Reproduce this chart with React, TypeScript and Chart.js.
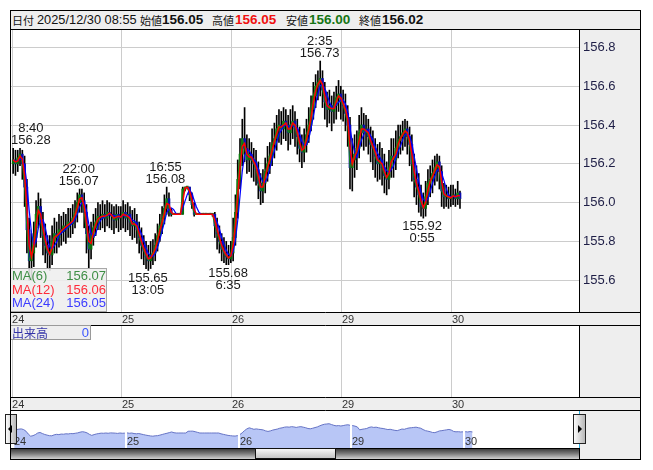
import React, { useEffect, useRef } from "react";
import { Chart, registerables } from "chart.js";

Chart.register(...registerables);

const FONT = '"Liberation Sans", Arial, sans-serif';
const JP = '"Noto Sans CJK JP", "Noto Sans", sans-serif';

// ---- data (30-minute bars, hours counted from Dec 24 07:00, weekend removed) ----
const dayLabels = ["24", "25", "26", "29", "30"];
const dayStartHours = [0, 24, 48, 72, 96];
const BAR_HOURS = 0.5;
const firstOpen = 156.2;

const d24Close = [156.22, 156.2, 156.23, 156.25, 156.2, 156.08, 155.86, 155.7, 155.74, 155.82, 155.94, 155.98, 155.9, 155.83, 155.78, 155.74, 155.73, 155.8, 155.84, 155.82, 155.86, 155.85, 155.88, 155.87, 155.9, 155.89, 155.92, 155.95, 156.0, 156.04, 156.01, 155.95, 155.84, 155.76, 155.82, 155.87, 155.9, 155.93, 155.92, 155.94, 155.92, 155.95, 155.94, 155.93, 155.91, 155.94, 155.92, 155.93];
const d24High = [156.28, 156.27, 156.27, 156.28, 156.27, 156.24, 156.12, 155.92, 155.84, 155.9, 156.01, 156.05, 156.02, 155.95, 155.89, 155.83, 155.83, 155.88, 155.92, 155.9, 155.94, 155.93, 155.95, 155.94, 155.97, 155.97, 155.99, 156.01, 156.05, 156.07, 156.07, 156.05, 155.99, 155.88, 155.9, 155.94, 155.97, 156.0, 155.99, 156.01, 155.99, 156.01, 156.0, 155.99, 155.98, 155.99, 155.98, 155.98];
const d24Low = [156.15, 156.14, 156.16, 156.19, 156.12, 155.98, 155.74, 155.6, 155.6, 155.67, 155.77, 155.87, 155.82, 155.73, 155.69, 155.66, 155.65, 155.68, 155.74, 155.74, 155.77, 155.78, 155.8, 155.79, 155.82, 155.82, 155.84, 155.87, 155.9, 155.95, 155.95, 155.87, 155.74, 155.66, 155.71, 155.78, 155.83, 155.86, 155.86, 155.87, 155.85, 155.88, 155.87, 155.86, 155.84, 155.87, 155.85, 155.86];

const d25Close = [155.95, 155.92, 155.94, 155.9, 155.88, 155.9, 155.86, 155.82, 155.78, 155.75, 155.72, 155.7, 155.73, 155.74, 155.78, 155.83, 155.88, 155.92, 155.97, 156.02, 155.96, 155.94, 155.94, 155.94, 155.94, 155.94, 156.07, 156.08, 156.08, 156.04, 155.99, 155.94, 155.94, 155.94, 155.94, 155.94, 155.94, 155.94, 155.94, 155.94, 155.88, 155.84, 155.8, 155.76, 155.74, 155.72, 155.71, 155.74];
const d25High = [156.01, 155.99, 156.0, 155.98, 155.96, 155.97, 155.94, 155.9, 155.87, 155.83, 155.8, 155.78, 155.8, 155.81, 155.84, 155.89, 155.94, 155.98, 156.04, 156.08, 156.05, 155.97, 155.94, 155.94, 155.94, 155.94, 156.08, 156.08, 156.08, 156.08, 156.05, 156.0, 155.94, 155.94, 155.94, 155.94, 155.94, 155.94, 155.94, 155.94, 155.95, 155.92, 155.88, 155.84, 155.82, 155.8, 155.78, 155.8];
const d25Low = [155.87, 155.85, 155.86, 155.83, 155.81, 155.82, 155.79, 155.74, 155.71, 155.68, 155.66, 155.65, 155.66, 155.68, 155.7, 155.75, 155.8, 155.84, 155.89, 155.94, 155.93, 155.93, 155.94, 155.94, 155.94, 155.94, 155.94, 156.06, 156.07, 156.01, 155.97, 155.93, 155.94, 155.94, 155.94, 155.94, 155.94, 155.94, 155.94, 155.93, 155.82, 155.76, 155.74, 155.7, 155.69, 155.68, 155.68, 155.69];

const d26Close = [155.82, 155.95, 156.12, 156.25, 156.33, 156.28, 156.22, 156.25, 156.22, 156.2, 156.17, 156.1, 156.06, 156.1, 156.16, 156.2, 156.24, 156.3, 156.33, 156.38, 156.4, 156.38, 156.42, 156.4, 156.36, 156.4, 156.42, 156.38, 156.34, 156.28, 156.26, 156.3, 156.35, 156.4, 156.48, 156.55, 156.6, 156.62, 156.64, 156.58, 156.52, 156.48, 156.5, 156.47, 156.5, 156.54, 156.56, 156.52];
const d26High = [155.92, 156.04, 156.22, 156.33, 156.43, 156.49, 156.35, 156.33, 156.31, 156.28, 156.27, 156.21, 156.15, 156.17, 156.23, 156.29, 156.31, 156.38, 156.41, 156.45, 156.48, 156.47, 156.49, 156.48, 156.45, 156.48, 156.5, 156.47, 156.43, 156.39, 156.35, 156.38, 156.43, 156.49, 156.55, 156.62, 156.66, 156.68, 156.73, 156.68, 156.62, 156.57, 156.58, 156.55, 156.57, 156.6, 156.63, 156.6];
const d26Low = [155.7, 155.78, 155.92, 156.07, 156.19, 156.21, 156.15, 156.16, 156.13, 156.11, 156.09, 156.02, 155.99, 156.0, 156.05, 156.11, 156.15, 156.19, 156.23, 156.27, 156.31, 156.3, 156.33, 156.32, 156.27, 156.3, 156.33, 156.29, 156.25, 156.21, 156.18, 156.21, 156.26, 156.31, 156.37, 156.43, 156.49, 156.53, 156.55, 156.49, 156.43, 156.39, 156.41, 156.37, 156.41, 156.43, 156.47, 156.43];

const d29Close = [156.5, 156.46, 156.4, 156.18, 156.22, 156.25, 156.28, 156.36, 156.4, 156.36, 156.38, 156.34, 156.3, 156.28, 156.24, 156.2, 156.22, 156.18, 156.14, 156.12, 156.18, 156.24, 156.22, 156.28, 156.32, 156.34, 156.36, 156.38, 156.34, 156.3, 156.2, 156.12, 156.08, 156.04, 155.98, 155.97, 156.03, 156.1, 156.12, 156.15, 156.18, 156.21, 156.16, 156.06, 156.03, 156.04, 156.02, 156.03];
const d29High = [156.58, 156.56, 156.5, 156.44, 156.33, 156.35, 156.37, 156.45, 156.49, 156.46, 156.45, 156.43, 156.39, 156.37, 156.33, 156.3, 156.31, 156.28, 156.25, 156.21, 156.27, 156.33, 156.33, 156.37, 156.4, 156.4, 156.42, 156.43, 156.42, 156.39, 156.35, 156.25, 156.19, 156.15, 156.09, 156.05, 156.11, 156.17, 156.19, 156.22, 156.24, 156.25, 156.24, 156.19, 156.1, 156.09, 156.08, 156.09];
const d29Low = [156.42, 156.37, 156.29, 156.07, 156.06, 156.13, 156.17, 156.23, 156.29, 156.27, 156.29, 156.25, 156.21, 156.17, 156.13, 156.11, 156.12, 156.09, 156.05, 156.04, 156.07, 156.13, 156.13, 156.17, 156.23, 156.25, 156.27, 156.29, 156.25, 156.19, 156.11, 156.03, 155.99, 155.95, 155.93, 155.92, 155.93, 155.99, 156.03, 156.05, 156.09, 156.11, 156.07, 155.98, 155.97, 155.98, 155.97, 155.98];

const d30Close = [156.04, 156.02, 156.05, 156.02];
const d30High = [156.09, 156.07, 156.11, 156.06];
const d30Low = [155.99, 155.98, 155.99, 155.97];

const priceTicks = [155.6, 155.8, 156.0, 156.2, 156.4, 156.6, 156.8];

const markerHours = [1.67, 15.0, 33.92, 30.08, 47.58, 67.58, 89.92];
const markerPrices = [156.28, 156.07, 156.08, 155.65, 155.68, 156.73, 155.92];
const markerTimes = ["8:40", "22:00", "16:55", "13:05", "6:35", "2:35", "0:55"];
const markerIsHigh = [true, true, true, false, false, true, false];

const maPeriods = [6, 12, 24];
const maColors = ["#138a13", "#ff0000", "#0000ff"];
const maLegendColors = ["#3f8f46", "#ff2b3a", "#3c3cff"];
const maLegendValues = ["156.07", "156.06", "156.05"];

const headerDate = "2025/12/30 08:55";
const headerOpen = "156.05";
const headerHigh = "156.05";
const headerLow = "156.00";
const headerClose = "156.02";
const volumeValue = "0";

// ---- layout constants ----
const X_MIN = -0.22;
const X_MAX = 123.72;
const Y_MIN = 155.436;
const Y_MAX = 156.89;
const NAV_X_MIN = -0.43;
const NAV_X_MAX = 120.42;
const NAV_Y_MIN = 154.81;
const NAV_Y_MAX = 157.6;

type Bar = { t: number; o: number; c: number; hi: number; lo: number };

const sessions = [
  { close: d24Close, high: d24High, low: d24Low },
  { close: d25Close, high: d25High, low: d25Low },
  { close: d26Close, high: d26High, low: d26Low },
  { close: d29Close, high: d29High, low: d29Low },
  { close: d30Close, high: d30High, low: d30Low },
];

function buildBars(): Bar[] {
  const out: Bar[] = [];
  let prev = firstOpen;
  sessions.forEach((s, d) => {
    s.close.forEach((c, i) => {
      out.push({ t: dayStartHours[d] + i * BAR_HOURS + BAR_HOURS / 2, o: prev, c, hi: s.high[i], lo: s.low[i] });
      prev = c;
    });
  });
  return out;
}

function movingAverage(bars: Bar[], period: number) {
  const w = Math.max(1, Math.round((period * 5) / (BAR_HOURS * 60)));
  return bars.map((b, i) => {
    const s = bars.slice(Math.max(0, i - w + 1), i + 1);
    return { x: b.t, y: s.reduce((a, q) => a + q.c, 0) / s.length };
  });
}

const stripPlugin = {
  id: "strip",
  beforeDraw(chart: any) {
    const { ctx, chartArea: a, width, height } = chart;
    ctx.save();
    ctx.fillStyle = "#eeeeee";
    ctx.fillRect(0, 0, width, height);
    ctx.fillStyle = "#ffffff";
    ctx.fillRect(a.left, a.top, a.right - a.left, a.bottom - a.top);
    ctx.restore();
  },
  afterDraw(chart: any) {
    const { ctx, chartArea: a, width, height } = chart;
    ctx.save();
    ctx.strokeStyle = "#000";
    ctx.lineWidth = 1;
    ctx.beginPath();
    ctx.moveTo(0, Math.round(a.bottom) + 0.5);
    ctx.lineTo(width, Math.round(a.bottom) + 0.5);
    ctx.moveTo(0, height - 0.5);
    ctx.lineTo(width, height - 0.5);
    ctx.moveTo(Math.round(a.right) + 0.5, 0);
    ctx.lineTo(Math.round(a.right) + 0.5, a.bottom);
    ctx.stroke();
    ctx.restore();
  },
};

const markerPlugin = {
  id: "markers",
  afterDatasetsDraw(chart: any) {
    const { ctx, chartArea: a } = chart;
    const xs = chart.scales.x;
    const ys = chart.scales.y;
    ctx.save();
    ctx.font = `13px ${FONT}`;
    ctx.fillStyle = "#1a1a1a";
    ctx.textAlign = "center";
    ctx.textBaseline = "alphabetic";
    markerHours.forEach((h, i) => {
      const priceText = markerPrices[i].toFixed(2);
      const w = Math.max(ctx.measureText(priceText).width, ctx.measureText(markerTimes[i]).width);
      let x = xs.getPixelForValue(h) - 2;
      x = Math.min(Math.max(x, a.left + w / 2), a.right - w / 2);
      const y = ys.getPixelForValue(markerPrices[i]);
      if (markerIsHigh[i]) {
        ctx.fillText(priceText, x, y - 4);
        ctx.fillText(markerTimes[i], x, y - 16);
      } else {
        ctx.fillText(priceText, x, y + 12);
        ctx.fillText(markerTimes[i], x, y + 24);
      }
    });
    ctx.restore();
  },
};

const navPlugin = {
  id: "navmarks",
  beforeDraw(chart: any) {
    const { ctx, width, height } = chart;
    ctx.save();
    ctx.fillStyle = "#ffffff";
    ctx.fillRect(0, 0, width, height);
    ctx.restore();
  },
  afterDatasetsDraw(chart: any) {
    const { ctx, chartArea: a } = chart;
    const xs = chart.scales.x;
    ctx.save();
    ctx.strokeStyle = "#ffffff";
    ctx.lineWidth = 2;
    ctx.font = `11px ${FONT}`;
    ctx.fillStyle = "#333";
    ctx.textAlign = "left";
    ctx.textBaseline = "alphabetic";
    dayStartHours.forEach((h, i) => {
      const x = Math.round(xs.getPixelForValue(h));
      ctx.beginPath();
      ctx.moveTo(x, a.top);
      ctx.lineTo(x, a.bottom);
      ctx.stroke();
      ctx.fillText(dayLabels[i], x + 1, a.bottom - 3);
    });
    ctx.restore();
  },
};

const noPad = (s: any) => {
  s.paddingTop = 0;
  s.paddingBottom = 0;
  s.paddingLeft = 0;
  s.paddingRight = 0;
};

function xAxis() {
  return {
    type: "linear",
    min: X_MIN,
    max: X_MAX,
    offset: false,
    position: "bottom",
    grid: { color: "#cccccc", drawTicks: false, offset: false },
    border: { display: false },
    ticks: {
      align: "start",
      padding: 1,
      autoSkip: false,
      maxRotation: 0,
      minRotation: 0,
      font: { family: FONT, size: 11 },
      color: "#333333",
      callback: (_v: any, i: number) => dayLabels[i] ?? "",
    },
    afterBuildTicks: (s: any) => {
      s.ticks = dayStartHours.map((v) => ({ value: v }));
    },
    afterFit: (s: any) => {
      s.height = 14;
      noPad(s);
    },
  };
}

export default function App() {
  const mainRef = useRef<HTMLCanvasElement>(null);
  const volRef = useRef<HTMLCanvasElement>(null);
  const navRef = useRef<HTMLCanvasElement>(null);

  useEffect(() => {
    const bars = buildBars();
    const charts: Chart[] = [];
    const mas = maPeriods.map((p) => movingAverage(bars, p));

    charts.push(
      new Chart(mainRef.current as HTMLCanvasElement, {
        type: "bar",
        data: {
          datasets: [
            { type: "line", label: "MA(12)", data: mas[1], borderColor: maColors[1], borderWidth: 1.5, pointRadius: 0, order: 1 } as any,
            { type: "line", label: "MA(24)", data: mas[2], borderColor: maColors[2], borderWidth: 1.2, pointRadius: 0, order: 2 } as any,
            { type: "line", label: "MA(6)", data: mas[0], borderColor: maColors[0], borderWidth: 1, pointRadius: 0, order: 3 } as any,
            {
              type: "bar",
              label: "body",
              data: bars.map((b) => ({ x: b.t, y: [b.o, b.c] })),
              backgroundColor: (c: any) => {
                const b = bars[c.dataIndex];
                return b && b.c >= b.o ? "#0a6e0a" : "#0c0cae";
              },
              barThickness: 2,
              minBarLength: 1,
              grouped: false,
              order: 4,
            } as any,
            {
              type: "bar",
              label: "wick",
              data: bars.map((b) => ({ x: b.t, y: [b.lo, b.hi] })),
              backgroundColor: "#000000",
              barThickness: 1,
              minBarLength: 1,
              grouped: false,
              order: 5,
            } as any,
          ],
        },
        options: {
          animation: false,
          responsive: false,
          devicePixelRatio: 1,
          layout: { padding: 0 },
          plugins: { legend: { display: false }, tooltip: { enabled: false } },
          scales: {
            x: xAxis() as any,
            y: {
              type: "linear",
              position: "right",
              min: Y_MIN,
              max: Y_MAX,
              grid: { color: "#cccccc", drawTicks: false },
              border: { display: false },
              ticks: {
                padding: 4,
                crossAlign: "near",
                font: { family: FONT, size: 13 },
                color: "#1e1e46",
                callback: (v: any) => Number(v).toFixed(1),
              },
              afterBuildTicks: (s: any) => {
                s.ticks = priceTicks.map((v) => ({ value: v }));
              },
              afterFit: (s: any) => {
                s.width = 61;
                noPad(s);
              },
            } as any,
          },
        },
        plugins: [stripPlugin, markerPlugin],
      })
    );

    charts.push(
      new Chart(volRef.current as HTMLCanvasElement, {
        type: "bar",
        data: { datasets: [] },
        options: {
          animation: false,
          responsive: false,
          devicePixelRatio: 1,
          layout: { padding: 0 },
          plugins: { legend: { display: false }, tooltip: { enabled: false } },
          scales: {
            x: xAxis() as any,
            y: {
              type: "linear",
              position: "right",
              min: 0,
              max: 1,
              grid: { display: false },
              border: { display: false },
              ticks: { display: false },
              afterFit: (s: any) => {
                s.width = 61;
                noPad(s);
              },
            } as any,
          },
        },
        plugins: [stripPlugin],
      })
    );

    charts.push(
      new Chart(navRef.current as HTMLCanvasElement, {
        type: "line",
        data: {
          datasets: [
            {
              data: bars.map((b) => ({ x: b.t, y: b.c })),
              borderColor: "#6674c6",
              backgroundColor: "#b8c6f6",
              borderWidth: 1,
              pointRadius: 0,
              fill: "start",
            } as any,
          ],
        },
        options: {
          animation: false,
          responsive: false,
          devicePixelRatio: 1,
          layout: { padding: 0 },
          plugins: { legend: { display: false }, tooltip: { enabled: false } },
          scales: {
            x: { type: "linear", display: false, min: NAV_X_MIN, max: NAV_X_MAX } as any,
            y: { type: "linear", display: false, min: NAV_Y_MIN, max: NAV_Y_MAX } as any,
          },
        },
        plugins: [navPlugin],
      })
    );

    return () => charts.forEach((c) => c.destroy());
  }, []);

  const abs = (s: React.CSSProperties): React.CSSProperties => ({ position: "absolute", ...s });
  const hdr = (left: number, text: string, extra: React.CSSProperties = {}) => (
    <span style={abs({ left, top: 11, height: 18, lineHeight: "18px", whiteSpace: "nowrap", ...extra })}>{text}</span>
  );
  const jp: React.CSSProperties = { fontFamily: JP, fontSize: 11, color: "#111" };
  const num: React.CSSProperties = { fontFamily: FONT, fontSize: 13.5, fontWeight: 700, color: "#111" };

  return (
    <div style={{ position: "fixed", left: 0, top: 0, width: 653, height: 470, background: "#fff", fontFamily: FONT, overflow: "hidden" }}>
      {/* header */}
      <div style={abs({ left: 11, top: 11, width: 629, height: 18, background: "#eeeeee", borderBottom: "1px solid #000" })} />
      {hdr(12, "日付", jp)}
      {hdr(37, headerDate, { fontFamily: FONT, fontSize: 12.8, color: "#111" })}
      {hdr(140, "始値", jp)}
      {hdr(162, headerOpen, num)}
      {hdr(212, "高値", jp)}
      {hdr(235, headerHigh, { ...num, color: "#f01010" })}
      {hdr(286, "安値", jp)}
      {hdr(309, headerLow, { ...num, color: "#157515" })}
      {hdr(359, "終値", jp)}
      {hdr(382, headerClose, num)}

      <canvas ref={mainRef} width={629} height={296} style={abs({ left: 11, top: 30, width: 629, height: 296 })} />

      {/* MA legend */}
      <div style={abs({ left: 10, top: 268, width: 97, height: 44, boxSizing: "border-box", border: "1px solid #a8a8a8", background: "rgba(238,238,238,0.88)" })} />
      {maPeriods.map((p, i) => (
        <React.Fragment key={p}>
          <span style={abs({ left: 12, top: 268 + i * 13.5, height: 15, lineHeight: "15px", fontSize: 13, color: maLegendColors[i], whiteSpace: "nowrap" })}>{`MA(${p})`}</span>
          <span style={abs({ left: 56, width: 50, textAlign: "right", top: 268 + i * 13.5, height: 15, lineHeight: "15px", fontSize: 13, color: maLegendColors[i] })}>{maLegendValues[i]}</span>
        </React.Fragment>
      ))}

      <canvas ref={volRef} width={629} height={85} style={abs({ left: 11, top: 326, width: 629, height: 85 })} />
      {/* volume legend */}
      <div style={abs({ left: 10, top: 325, width: 81, height: 15, boxSizing: "border-box", border: "1px solid #9a9a9a", background: "#eeeeee" })} />
      <span style={abs({ left: 12, top: 325, height: 15, lineHeight: "15px", fontFamily: JP, fontSize: 12, color: "#3434a8" })}>出来高</span>
      <span style={abs({ left: 70, width: 19, textAlign: "right", top: 325, height: 15, lineHeight: "15px", fontSize: 13, color: "#3a55ff" })}>{volumeValue}</span>

      <canvas ref={navRef} width={568} height={37} style={abs({ left: 11, top: 411, width: 568, height: 37 })} />
      <div style={abs({ left: 580, top: 411, width: 60, height: 48, background: "#eeeeee" })} />
      <div style={abs({ left: 579, top: 411, width: 1, height: 37, background: "#29aee0" })} />
      <div style={abs({ left: 579, top: 448, width: 1, height: 11, background: "#000" })} />
      <div style={abs({ left: 10, top: 411, width: 1, height: 37, background: "#29aee0" })} />

      {/* navigator buttons */}
      <div style={abs({ left: 5, top: 414, width: 12, height: 30, boxSizing: "border-box", border: "1px solid #222", background: "linear-gradient(to right, #fbfbfb, #b8b8b8)" })}>
        <div style={abs({ left: 2, top: 10, width: 0, height: 0, borderTop: "4px solid transparent", borderBottom: "4px solid transparent", borderRight: "4px solid #000" })} />
      </div>
      <div style={abs({ left: 573, top: 414, width: 13, height: 30, boxSizing: "border-box", border: "1px solid #222", background: "linear-gradient(to right, #fbfbfb, #b8b8b8)" })}>
        <div style={abs({ left: 4, top: 10, width: 0, height: 0, borderTop: "4px solid transparent", borderBottom: "4px solid transparent", borderLeft: "4px solid #000" })} />
      </div>

      {/* scrollbar */}
      <div style={abs({ left: 11, top: 448, width: 568, height: 11, boxSizing: "border-box", borderTop: "1px solid #000", background: "linear-gradient(#3e3e3e, #7a7a7a 45%, #d2d2d2)" })} />
      <div style={abs({ left: 255, top: 448, width: 81, height: 11, boxSizing: "border-box", border: "1px solid #111", background: "linear-gradient(#f6f6f6, #c4c4c4)" })} />

      {/* outer frame */}
      <div style={abs({ left: 10, top: 10, width: 631, height: 450, boxSizing: "border-box", border: "1px solid #000", pointerEvents: "none" })} />
    </div>
  );
}
